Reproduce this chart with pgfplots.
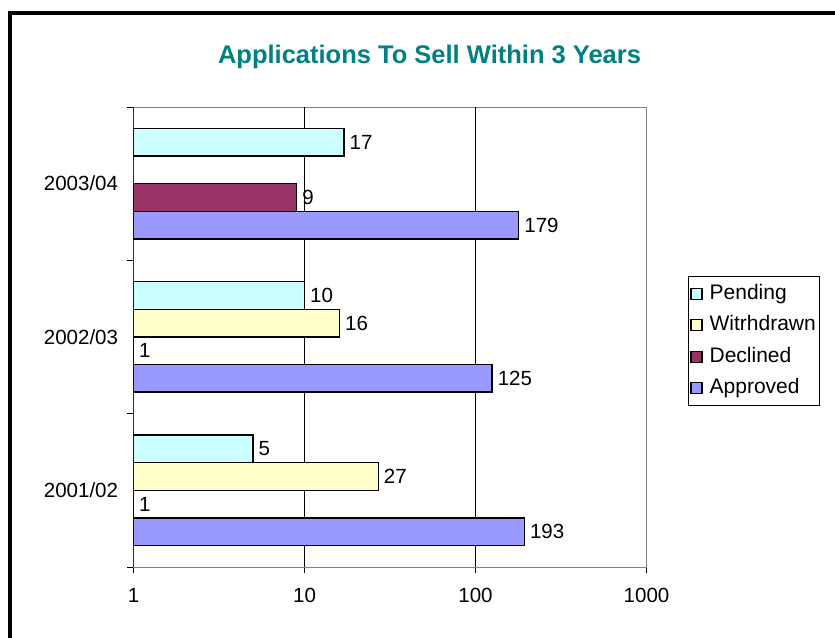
\documentclass[border=0pt]{standalone}
\usepackage{pgfplots}
\pgfplotsset{compat=1.18}
\usepackage{fontspec}
\setmainfont{Liberation Sans}
\definecolor{cPend}{HTML}{CCFFFF}
\definecolor{cWith}{HTML}{FFFFCC}
\definecolor{cDecl}{HTML}{993366}
\definecolor{cAppr}{HTML}{9999FF}
\definecolor{cTitle}{HTML}{008080}
\pgfplotsset{sqlegend/.style={legend image code/.code={\draw[##1,draw=black,line width=1.2pt] (0pt,-5.5pt) rectangle (11pt,5.5pt);}}}
\newcommand{\lab}{\fontsize{20.5}{24}\selectfont}
\begin{document}
\begin{tikzpicture}
\useasboundingbox (0,0) rectangle (835pt,637pt);
\draw[line width=4pt] (9.5pt,-5pt) -- (9.5pt,624pt) -- (840pt,624pt);
\node[anchor=base, font=\bfseries\fontsize{25.5}{30}\selectfont, text=cTitle] at (429.5pt,573.5pt) {Applications To Sell Within 3 Years};
\begin{axis}[
  at={(133.5pt,70pt)}, anchor=south west,
  width=513pt, height=460pt, scale only axis,
  xmode=log, xmin=1, xmax=1000, ymin=-0.5, ymax=2.5,
  xbar, bar width=0.18,
  xtick={1,10,100,1000}, xticklabels={1,10,100,1000},
  xminorticks=false,
  ytick={0,1,2}, yticklabels={2001/02,2002/03,2003/04},
  minor ytick={-0.5,0.5,1.5,2.5},
  major y tick style={draw=none},
  tick align=outside,
  major tick length=12pt, minor tick length=7pt,
  major x tick style={yshift=6pt, black, line width=0.8pt},
  minor y tick style={black, line width=0.8pt},
  xtick pos=left, ytick pos=left,
  extra x ticks={10,100}, extra x tick labels={},
  extra x tick style={grid=major, major grid style={black, line width=0.8pt}, major tick length=0pt},
  axis line style={draw=gray, line width=0.8pt},
  tick label style={font=\lab, black},
  xticklabel style={yshift=-6pt},
  point meta=rawx,
  nodes near coords={\pgfmathprintnumber[fixed,precision=0,assume math mode=true]{\pgfplotspointmeta}},
  every node near coord/.append style={font=\lab, black, anchor=west, inner sep=5pt},
  legend style={at={(1.081,0.633)}, anchor=north west, draw=black, line width=0.8pt,
    font=\fontsize{21}{24}\selectfont, inner xsep=2pt, inner ysep=6pt, row sep=8.5pt, column sep=5pt,
    nodes={inner sep=2pt, text height=15pt, text depth=4pt},
    cells={anchor=west}},
]
\addplot[fill=cPend, draw=black, line width=1.4pt, bar shift=0.27, sqlegend] coordinates {(5,0) (10,1) (17,2)};
\addplot[fill=cWith, draw=black, line width=1.4pt, bar shift=0.09, sqlegend] coordinates {(27,0) (16,1)};
\addplot[fill=cDecl, draw=black, line width=1.4pt, bar shift=-0.09, sqlegend] coordinates {(1,0) (1,1) (9,2)};
\addplot[fill=cAppr, draw=black, line width=1.4pt, bar shift=-0.27, sqlegend] coordinates {(193,0) (125,1) (179,2)};
\legend{Pending,Witrhdrawn,Declined,Approved}
\draw[black, line width=0.8pt] (rel axis cs:0,1) -- (rel axis cs:0,0) -- (rel axis cs:1,0);
\end{axis}
\end{tikzpicture}
\end{document}
